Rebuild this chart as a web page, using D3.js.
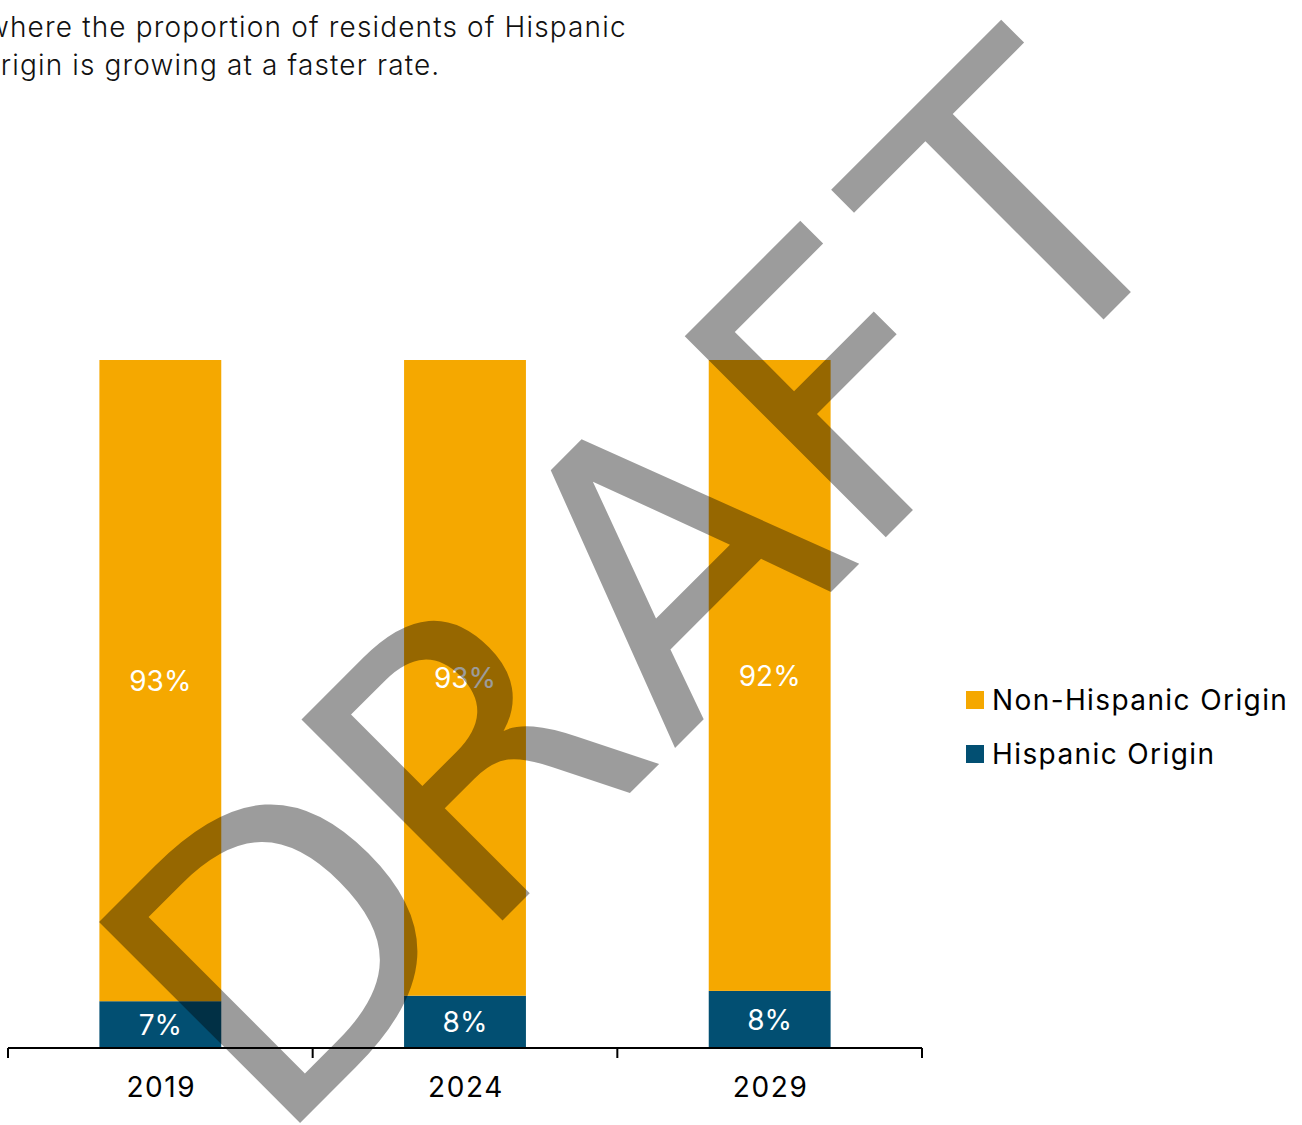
<!DOCTYPE html>
<html lang="en">
<head>
<meta charset="utf-8">
<title>Hispanic origin share</title>
<script src="https://d3js.org/d3.v7.min.js"></script>
<style>
  body { margin: 0; background: #fff; }
  svg { display: block; }
  text { font-family: Inter, Roboto, sans-serif; }
</style>
</head>
<body>
<div id="chart"></div>
<script>
// chart data
var years = ["2019", "2024", "2029"];
var hispanic = [6.8, 7.6, 8.3];
var nonHispanic = [93.2, 92.4, 91.7];
var hispanicLabels = ["7%", "8%", "8%"];
var nonHispanicLabels = ["93%", "93%", "92%"];
var seriesNames = ["Non-Hispanic Origin", "Hispanic Origin"];
var subtitleLines = ["where the proportion of residents of Hispanic", "origin is growing at a faster rate."];

var W = 1302, H = 1125;
var orange = "#f5a800", blue = "#024f72";

var svg = d3.select("#chart").append("svg")
    .attr("width", W)
    .attr("height", H);

// subtitle (cut off at the left edge like the source)
svg.append("g").selectAll("text")
  .data(subtitleLines)
  .enter().append("text")
    .attr("x", function(d, i) { return i == 0 ? -14 : -17; })
    .attr("y", function(d, i) { return 37 + i * 38; })
    .style("font-size", "28px")
    .style("font-weight", 300)
    .style("letter-spacing", "1.15px")
    .style("fill", "#111")
    .text(function(d) { return d; });

var x = d3.scaleBand()
    .domain(years)
    .range([8, 922])
    .padding(0);

var y = d3.scaleLinear()
    .domain([0, 100])
    .range([1048, 360]);

var barW = x.bandwidth() * 0.4;

var rows = years.map(function(d, i) {
  return { year: d, h: hispanic[i], n: nonHispanic[i], hl: hispanicLabels[i], nl: nonHispanicLabels[i] };
});

// hispanic segment (bottom)
svg.selectAll("rect.hisp")
  .data(rows)
  .enter().append("rect")
    .attr("class", "hisp")
    .attr("x", function(d) { return x(d.year) + (x.bandwidth() - barW) / 2; })
    .attr("width", barW)
    .attr("y", function(d) { return y(d.h); })
    .attr("height", function(d) { return y(0) - y(d.h); })
    .style("fill", blue);

// non-hispanic segment (top)
svg.selectAll("rect.non")
  .data(rows)
  .enter().append("rect")
    .attr("class", "non")
    .attr("x", function(d) { return x(d.year) + (x.bandwidth() - barW) / 2; })
    .attr("width", barW)
    .attr("y", function(d) { return y(d.h + d.n); })
    .attr("height", function(d) { return y(d.h) - y(d.h + d.n); })
    .style("fill", orange);

// value labels
svg.selectAll("text.hl")
  .data(rows)
  .enter().append("text")
    .attr("x", function(d) { return x(d.year) + x.bandwidth() / 2; })
    .attr("y", function(d) { return (y(0) + y(d.h)) / 2; })
    .attr("dy", "0.36em")
    .attr("text-anchor", "middle")
    .style("font-size", "28px")
    .style("fill", "#fff")
    .text(function(d) { return d.hl; });

svg.selectAll("text.nl")
  .data(rows)
  .enter().append("text")
    .attr("x", function(d) { return x(d.year) + x.bandwidth() / 2; })
    .attr("y", function(d) { return (y(d.h) + y(d.h + d.n)) / 2; })
    .attr("dy", "0.36em")
    .attr("text-anchor", "middle")
    .style("font-size", "28px")
    .style("fill", "#fff")
    .text(function(d) { return d.nl; });

// x axis: ticks on band edges
var axis = svg.append("g");
axis.append("line")
    .attr("x1", x.range()[0]).attr("x2", x.range()[1])
    .attr("y1", y(0)).attr("y2", y(0))
    .style("stroke", "#000").style("stroke-width", 2);
var edges = years.map(function(d) { return x(d); }).concat([x.range()[1]]);
axis.selectAll("line.tick")
  .data(edges)
  .enter().append("line")
    .attr("class", "tick")
    .attr("x1", function(d) { return d; }).attr("x2", function(d) { return d; })
    .attr("y1", y(0)).attr("y2", y(0) + 10)
    .style("stroke", "#000").style("stroke-width", 2);
axis.selectAll("text")
  .data(years)
  .enter().append("text")
    .attr("x", function(d) { return x(d) + x.bandwidth() / 2 + 1; })
    .attr("y", 1097)
    .attr("text-anchor", "middle")
    .style("font-size", "28px")
    .style("letter-spacing", "1.6px")
    .style("fill", "#000")
    .text(function(d) { return d; });

// legend
var legend = svg.append("g").selectAll("g")
  .data(seriesNames)
  .enter().append("g")
    .attr("transform", function(d, i) { return "translate(966," + (691 + i * 54) + ")"; });
legend.append("rect")
    .attr("width", 18).attr("height", 18)
    .style("fill", function(d, i) { return i == 0 ? orange : blue; });
legend.append("text")
    .attr("x", 26).attr("y", 19)
    .style("font-size", "28px")
    .style("letter-spacing", "1.4px")
    .style("fill", "#000")
    .text(function(d) { return d; });

// DRAFT watermark, letter offsets tuned to the source
svg.append("text")
    .attr("transform", "translate(273,1150) rotate(-45)")
    .attr("dx", "0 -14 24 -4 29")
    .style("font-family", "'DejaVu Sans', sans-serif")
    .style("font-size", "390px")
    .style("fill", "#000")
    .style("fill-opacity", 0.39)
    .text("DRAFT");
</script>
</body>
</html>
